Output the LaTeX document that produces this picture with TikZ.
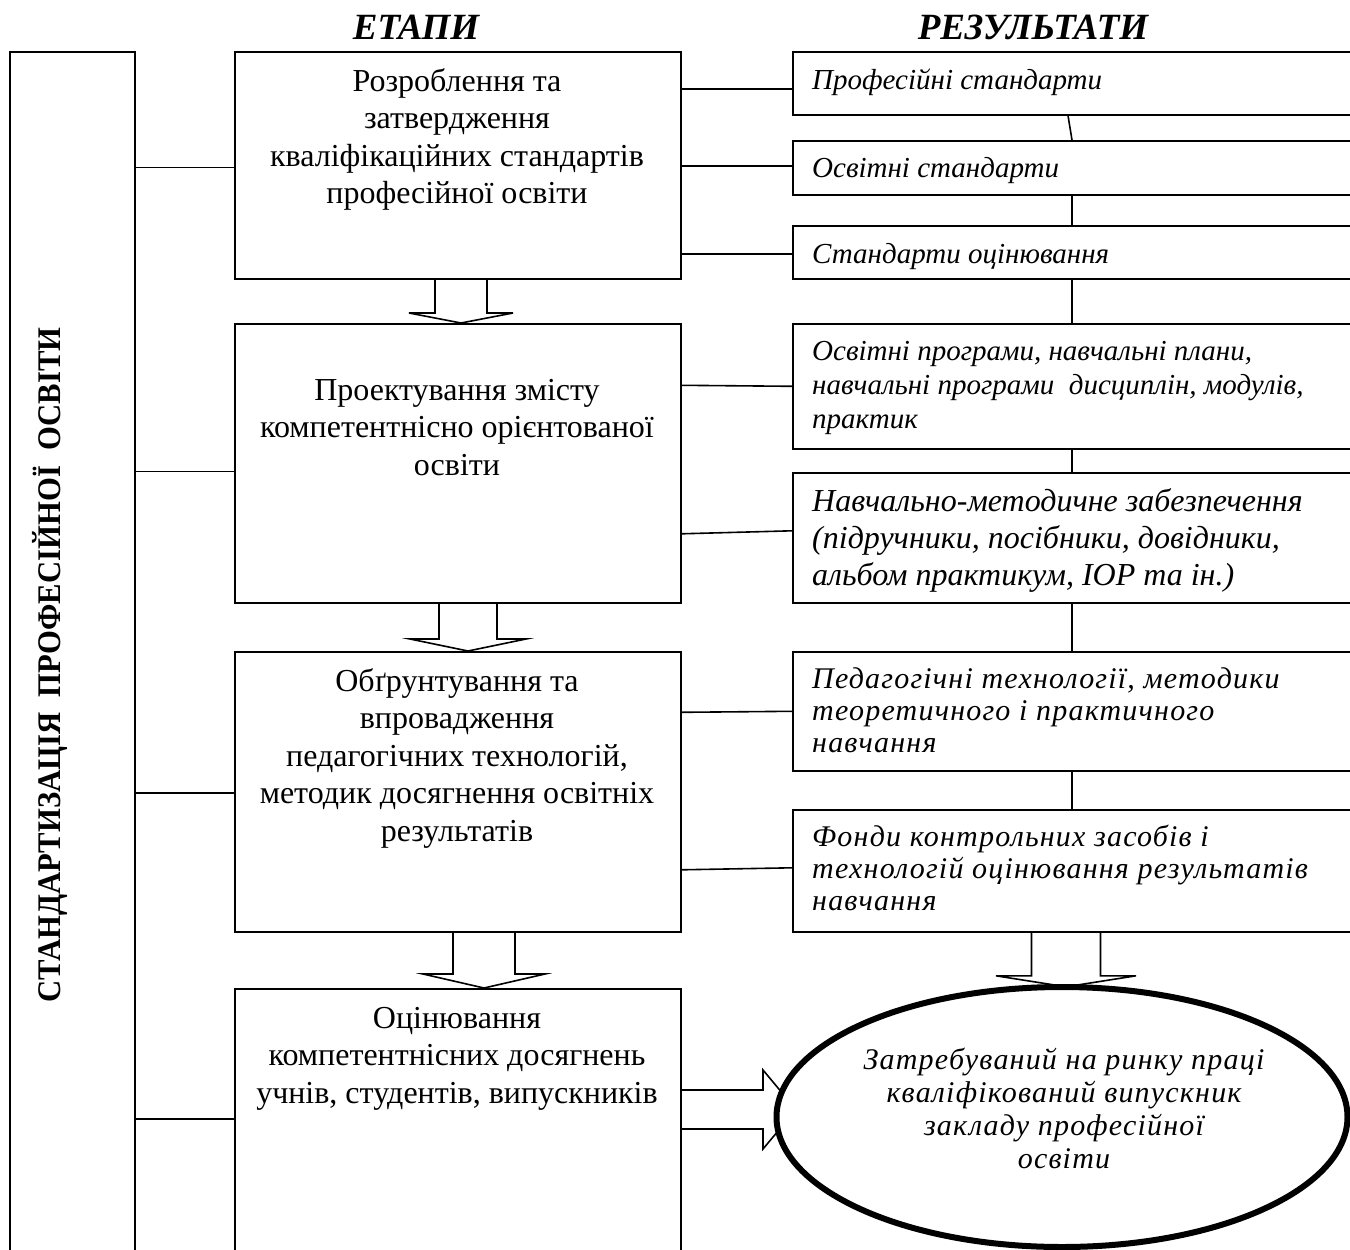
\documentclass[tikz,border=0pt]{standalone}
\usepackage{fontspec}
\setmainfont{Liberation Serif}
\newfontfamily\lsfont[LetterSpace=4]{Liberation Serif}
\newfontfamily\vsfont[FakeStretch=0.93]{Liberation Serif}
\usetikzlibrary{calc,shapes.geometric}
\tikzset{
  box/.style={draw, line width=1.6pt, rectangle, inner sep=0pt, anchor=north west},
  steptext/.style={inner sep=0pt, anchor=north, align=center, font=\fontsize{32}{37.5}\selectfont},
  restext/.style={inner sep=0pt, anchor=north west, align=left, font=\fontsize{29}{34}\selectfont\itshape},
  resbig/.style={inner sep=0pt, anchor=north west, align=left, font=\fontsize{32}{37}\selectfont\itshape},
  resls/.style={inner sep=0pt, anchor=north west, align=left, font=\lsfont\itshape\fontsize{30}{32}\selectfont},
  title/.style={inner sep=0pt, anchor=base, font=\bfseries\itshape\fontsize{37}{40}\selectfont},
  conn/.style={line width=1.6pt},
  hollow/.style={line width=1.6pt, line join=miter},
}
\newcommand\blockdown[6]{%
  \draw[hollow] ($(#3 |- #1.south)+(-#4,0)$) -- ($(#3 |- #2.north)+(-#4,-#6)$)
    -- ($(#3 |- #2.north)+(-#5,-#6)$) -- (#3 |- #2.north)
    -- ($(#3 |- #2.north)+(#5,-#6)$) -- ($(#3 |- #2.north)+(#4,-#6)$)
    -- ($(#3 |- #1.south)+(#4,0)$);}
\begin{document}
\begin{tikzpicture}[x=1pt,y=-1pt]
\useasboundingbox (0,0) rectangle (1350,1250);
\fill[white] (0,0) rectangle (1350,1250);
\clip (0,0) rectangle (1350,1250);

% titles
\node[title] (t1) at (416,39) {ЕТАПИ};
\node[title] (t2) at (1033,39) {РЕЗУЛЬТАТИ};

% left vertical box
\node[box, minimum width=125, minimum height=1230] (L) at (9,51) {};
\node[rotate=90, anchor=base, inner sep=0pt, font=\vsfont\bfseries\fontsize{33}{36}\selectfont] (vt) at (60,665) {СТАНДАРТИЗАЦІЯ\ \ ПРОФЕСІЙНОЇ\ \ ОСВІТИ};

% step boxes
\node[box, minimum width=446, minimum height=227] (s1) at (234,51) {};
\node[box, minimum width=446, minimum height=279] (s2) at (234,323) {};
\node[box, minimum width=446, minimum height=280] (s3) at (234,651) {};
\node[box, minimum width=446, minimum height=282] (s4) at (234,988) {};

\node[steptext] (s1t) at (457,64.75) {\strut Розроблення та\\затвердження\\кваліфікаційних стандартів\\професійної освіти};
\node[steptext] (s2t) at (457,373.75) {\strut Проектування змісту\\компетентнісно орієнтованої\\освіти};
\node[steptext] (s3t) at (457,664.75) {\strut Обґрунтування та\\впровадження\\педагогічних технологій,\\методик досягнення освітніх\\результатів};
\node[steptext] (s4t) at (457,1001.75) {\strut Оцінювання\\компетентнісних досягнень\\учнів, студентів, випускників};

% result boxes
\node[box, minimum width=570, minimum height=63] (r1) at (792,51) {};
\node[box, minimum width=570, minimum height=54] (r2) at (792,140) {};
\node[box, minimum width=570, minimum height=53] (r3) at (792,225) {};
\node[box, minimum width=570, minimum height=125] (r4) at (792,323) {};
\node[box, minimum width=570, minimum height=130] (r5) at (792,472) {};
\node[box, minimum width=570, minimum height=119] (r6) at (792,651) {};
\node[box, minimum width=570, minimum height=122] (r7) at (792,809) {};

\node[restext] (r1t) at (812,65.2) {\strut Професійні стандарти};
\node[restext] (r2t) at (812,153.2) {\strut Освітні стандарти};
\node[restext] (r3t) at (812,239.2) {\strut Стандарти оцінювання};
\node[restext] (r4t) at (812,336.2) {\strut Освітні програми, навчальні плани,\\навчальні програми\ \ дисциплін, модулів,\\практик};
\node[resbig] (r5t) at (812,485.1) {\strut Навчально-методичне забезпечення\\(підручники, посібники, довідники,\\альбом практикум, ІОР та ін.)};
\node[resls] (r6t) at (812,665.6) {\strut Педагогічні технології, методики\\теоретичного і практичного\\навчання};
\node[resls] (r7t) at (812,823.6) {\strut Фонди контрольних засобів і\\технологій оцінювання результатів\\навчання};

% connectors left box -> steps
\coordinate (j1) at ($(s1.west)+(0,2)$);
\coordinate (j2) at ($(s2.west)+(0,8)$);
\coordinate (j3) at ($(s3.west)+(0,1)$);
\coordinate (j4) at ($(s4.west)+(0,-11)$);
\foreach \j in {j1,j2,j3,j4} \draw[conn] (\j) -- (\j -| L.east);

% connectors steps -> results
\coordinate (k1) at ($(r1.west)+(0,5.5)$);
\coordinate (k2) at ($(r2.west)+(0,-2)$);
\coordinate (k3) at ($(r3.west)+(0,1.5)$);
\coordinate (k5) at ($(r5.west)+(0,-7)$);
\draw[conn] (k1) -- (k1 -| s1.east);
\draw[conn] (k2) -- (k2 -| s1.east);
\draw[conn] (k3) -- (k3 -| s1.east);
\draw[conn] (r4.west) -- ($(r4.west -| s2.east)+(0,-1)$);
\draw[conn] (k5) -- ($(k5 -| s2.east)+(0,3)$);
\draw[conn] (r6.west) -- ($(r6.west -| s3.east)+(0,1)$);
\draw[conn] ($(r7.west)+(0,-3)$) -- ($(r7.west -| s3.east)+(0,-1)$);

% vertical chain between results
\coordinate (vx) at (1072,0);
\coordinate (vx0) at (1068,0);
\draw[conn] (vx0 |- r1.south) -- (vx |- r2.north);
\draw[conn] (vx |- r2.south) -- (vx |- r3.north);
\draw[conn] (vx |- r3.south) -- (vx |- r4.north);
\draw[conn] (vx |- r4.south) -- (vx |- r5.north);
\draw[conn] (vx |- r5.south) -- (vx |- r6.north);
\draw[conn] (vx |- r6.south) -- (vx |- r7.north);

% ellipse (named first for arrows)
\path (1062,1117) node[ellipse, minimum width=571, minimum height=260, inner sep=0pt] (E) {};

% hollow block arrows
\coordinate (c1) at (461,0);
\coordinate (c2) at (468,0);
\coordinate (c3) at (484,0);
\coordinate (c4) at (1066,0);
\blockdown{s1}{s2}{c1}{26}{52}{10}
\blockdown{s2}{s3}{c2}{29}{58}{12}
\blockdown{s3}{s4}{c3}{31}{61}{14}
\blockdown{r7}{E}{c4}{34.5}{70}{11}

\coordinate (h5) at (763,1109.5);
\draw[hollow] ($(s4.east |- h5)+(0,-19.5)$) -- ($(h5)+(0,-19.5)$) -- ($(h5)+(0,-39.5)$)
  -- ($(h5)+(33,0)$) -- ($(h5)+(0,39.5)$) -- ($(h5)+(0,19.5)$) -- ($(s4.east |- h5)+(0,19.5)$);

% ellipse drawn on top
\node[ellipse, draw, line width=6pt, fill=white, minimum width=571, minimum height=260, inner sep=0pt] (E2) at (E) {};
\node[inner sep=0pt, anchor=north, align=center, font=\lsfont\itshape\fontsize{30}{33}\selectfont] (Et) at (1064,1046) {\strut Затребуваний на ринку праці\\кваліфікований випускник\\закладу професійної\\освіти};
\end{tikzpicture}
\end{document}
